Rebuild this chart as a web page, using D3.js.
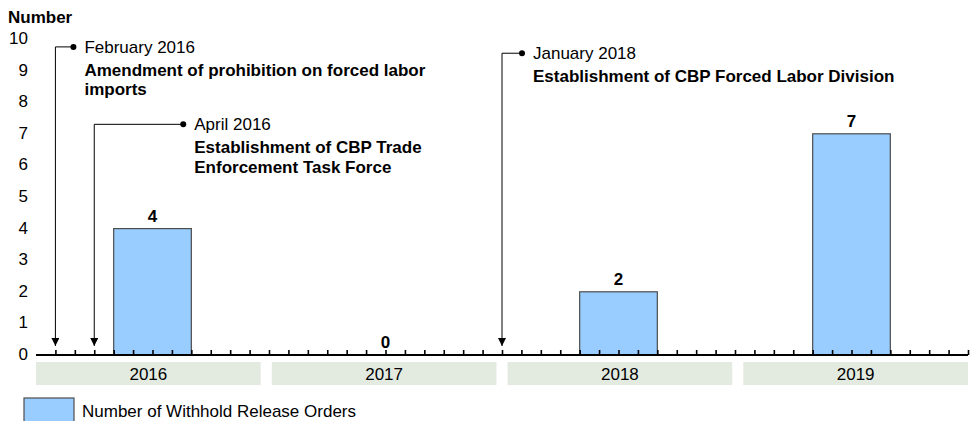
<!DOCTYPE html>
<html>
<head>
<meta charset="utf-8">
<script src="https://cdn.jsdelivr.net/npm/d3@7"></script>
<style>
  body { margin: 0; background: #fff; }
  svg { display: block; font-family: "Liberation Sans", Arial, sans-serif; }
  .tick-label { font-size: 17px; fill: #000; }
  .bar-label { font-size: 17px; font-weight: bold; }
  .ann-date { font-size: 17px; }
  .ann-title { font-size: 17px; font-weight: bold; }
</style>
</head>
<body>
<svg id="chart" width="976" height="421"></svg>
<script>
// data
const years = ['2016', '2017', '2018', '2019'];
const counts = [4, 0, 2, 7];
const yTicks = [0, 1, 2, 3, 4, 5, 6, 7, 8, 9, 10];

// events (month index from Jan 2016, level in y units)
const eventMonths = [1, 3, 24];
const eventLevels = [9.75, 7.3, 9.55];
const eventDates = ['February 2016', 'April 2016', 'January 2018'];
const eventTitles = [
  ['Amendment of prohibition on forced labor', 'imports'],
  ['Establishment of CBP Trade', 'Enforcement Task Force'],
  ['Establishment of CBP Forced Labor Division'],
];
const eventLegs = [18, 89, 20];

const legendLabel = 'Number of Withhold Release Orders';

const svg = d3.select('#chart');

const x = d3.scaleLinear().domain([0, years.length * 12]).range([36, 968]);
const y = d3.scaleLinear().domain([0, 10]).range([355, 39]);
const yearBand = d3.scaleBand().domain(years).range([36, 968]).paddingInner(0.047);

// y axis title and labels
svg.append('text')
  .attr('x', 8)
  .attr('y', 23)
  .attr('font-size', 17)
  .attr('font-weight', 'bold')
  .text('Number');

svg.append('g')
  .selectAll('text')
  .data(yTicks)
  .enter()
  .append('text')
  .attr('class', 'tick-label')
  .attr('x', 28)
  .attr('y', (d) => y(d) - 1)
  .attr('dy', '0.35em')
  .attr('text-anchor', 'end')
  .text((d) => d);

// year bands under axis
const bands = svg.append('g');
bands.selectAll('rect')
  .data(years)
  .enter()
  .append('rect')
  .attr('x', (d) => yearBand(d))
  .attr('y', 362)
  .attr('width', yearBand.bandwidth())
  .attr('height', 23)
  .attr('fill', '#e3ebe0');
bands.selectAll('text')
  .data(years)
  .enter()
  .append('text')
  .attr('class', 'tick-label')
  .attr('x', (d) => yearBand(d) + yearBand.bandwidth() / 2)
  .attr('y', 380)
  .attr('text-anchor', 'middle')
  .text((d) => d);

// bars, months 4-8 of each year
const bars = svg.append('g');
bars.selectAll('rect')
  .data(counts)
  .enter()
  .append('rect')
  .attr('x', (d, i) => x(i * 12 + 4))
  .attr('y', (d) => y(d))
  .attr('width', x(8) - x(4))
  .attr('height', (d) => y(0) - y(d))
  .attr('fill', '#99ccff')
  .attr('stroke', '#4d4d4d')
  .attr('stroke-width', 1.2);
bars.selectAll('text')
  .data(counts)
  .enter()
  .append('text')
  .attr('class', 'bar-label')
  .attr('x', (d, i) => x(i * 12 + 6))
  .attr('y', (d) => y(d) - 7)
  .attr('text-anchor', 'middle')
  .text((d) => d);

// month axis
const axis = svg.append('g').attr('transform', 'translate(0,' + y(0) + ')');
axis.call(
  d3.axisTop(x)
    .tickValues(d3.range(1, years.length * 12 + 1))
    .tickSize(5)
    .tickFormat('')
);
axis.select('.domain').remove();
axis.selectAll('.tick line').attr('stroke', '#000').attr('stroke-width', 1.6);
axis.append('line')
  .attr('x1', x(0))
  .attr('x2', x(years.length * 12))
  .attr('stroke', '#000')
  .attr('stroke-width', 2);

// annotations
svg.append('defs')
  .append('marker')
  .attr('id', 'arrow')
  .attr('viewBox', '0 0 10 10')
  .attr('refX', 10)
  .attr('refY', 5)
  .attr('markerWidth', 8)
  .attr('markerHeight', 8)
  .attr('markerUnits', 'userSpaceOnUse')
  .attr('orient', 'auto')
  .append('path')
  .attr('d', 'M0,0 L10,5 L0,10 Z')
  .attr('fill', '#000');

eventMonths.forEach((m, i) => {
  const g = svg.append('g');
  const ax = x(m);
  const ay = y(eventLevels[i]);
  const dotX = ax + eventLegs[i];
  g.append('path')
    .attr('d', `M${dotX},${ay} H${ax} V${y(0) - 9}`)
    .attr('fill', 'none')
    .attr('stroke', '#000')
    .attr('stroke-width', 1)
    .attr('marker-end', 'url(#arrow)');
  g.append('circle')
    .attr('cx', dotX)
    .attr('cy', ay)
    .attr('r', 3)
    .attr('fill', '#000');
  g.append('text')
    .attr('class', 'ann-date')
    .attr('x', dotX + 11)
    .attr('y', ay + 6)
    .text(eventDates[i]);
  eventTitles[i].forEach((line, j) => {
    g.append('text')
      .attr('class', 'ann-title')
      .attr('x', dotX + 11)
      .attr('y', ay + 29 + j * 19.5)
      .text(line);
  });
});

// legend
svg.append('rect')
  .attr('x', 24)
  .attr('y', 398)
  .attr('width', 50)
  .attr('height', 30)
  .attr('fill', '#99ccff')
  .attr('stroke', '#4d4d4d')
  .attr('stroke-width', 1.2);
svg.append('text')
  .attr('class', 'tick-label')
  .attr('x', 82)
  .attr('y', 417)
  .text(legendLabel);
</script>
</body>
</html>
